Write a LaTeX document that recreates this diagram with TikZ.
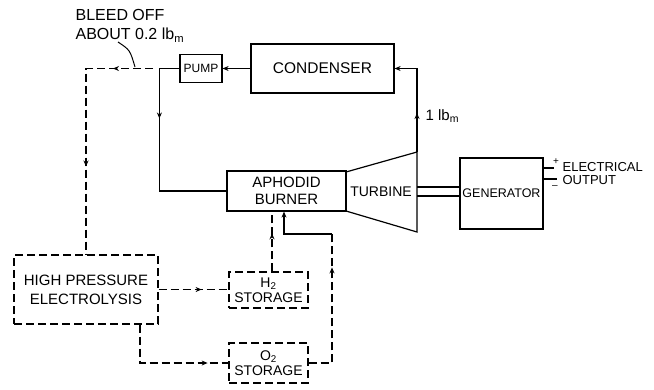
\documentclass[tikz,border=0pt]{standalone}
\usepackage{fontspec}
\setmainfont{Liberation Sans}
\usetikzlibrary{arrows.meta,decorations.markings}

\begin{document}
\begin{tikzpicture}[x=1pt, y=-1pt, >={Stealth[length=6pt,width=5pt]}, line width=1.2pt,
  block/.style={draw, inner sep=0pt, align=center, font=\fontsize{14}{16}\selectfont},
  dashblock/.style={block, dash pattern=on 8pt off 4pt},
  flow/.style={dash pattern=on 8pt off 4pt},
  midtip/.style={postaction={decorate, decoration={markings, mark=at position #1 with {\arrow{>}}}}},
  lbl/.style={inner sep=0pt, font=\fontsize{13}{15}\selectfont}]

\useasboundingbox (0,0) rectangle (654,389);

% main loop
\node[block, minimum width=42pt, minimum height=28pt, font=\fontsize{12}{14}\selectfont] (pump) at (201,68.5) {PUMP};
\node[block, minimum width=143pt, minimum height=49pt, font=\fontsize{15.5}{17}\selectfont] (cond) at (322.5,68.5) {CONDENSER};
\node[block, minimum width=119pt, minimum height=40pt, font=\fontsize{15}{17}\selectfont] (burner) at (286.5,191) {APHODID\\BURNER};
\coordinate (t1) at (346,172);
\coordinate (t2) at (417,152);
\coordinate (t3) at (417,232);
\coordinate (t4) at (346,211);
\draw (t1) -- (t2) -- (t3) -- (t4);
\node[lbl, font=\fontsize{14}{16}\selectfont] (turb) at (381,192) {TURBINE};
\node[block, minimum width=83pt, minimum height=71pt, font=\fontsize{12.5}{15}\selectfont] (gen) at (501.5,193.5) {GENERATOR};

% electrolysis side
\node[dashblock, minimum width=144pt, minimum height=69pt, font=\fontsize{15}{19}\selectfont] (hpe) at (86,289.5) {HIGH PRESSURE\\ELECTROLYSIS};
\node[dashblock, minimum width=79pt, minimum height=36pt, font=\fontsize{14}{15}\selectfont] (htwo) at (268.5,290) {H\textsubscript{2}\\STORAGE};
\node[dashblock, minimum width=79pt, minimum height=40pt, font=\fontsize{14}{15}\selectfont] (otwo) at (268.5,363) {O\textsubscript{2}\\STORAGE};

% labels
\node[lbl, anchor=north west, align=left, font=\fontsize{16}{19}\selectfont] (bleed) at (75,9) {BLEED OFF\\ABOUT 0.2 lb\textsubscript{m}};
\node[lbl, anchor=west, font=\fontsize{15}{17}\selectfont] (mass) at (425,116) {1 lb\textsubscript{m}};
\node[lbl, anchor=west] (elec) at (562,167) {ELECTRICAL};
\node[lbl, anchor=west] (outp) at (562,180) {OUTPUT};
\node[lbl, font=\fontsize{10}{10}\selectfont] (plus) at (556,162) {+};
\node[lbl, font=\fontsize{10}{10}\selectfont] (minus) at (555,187) {--};

% steam flow
\draw[->] (cond.west) -- (pump.east);
\draw[->, midtip=39pt] (t2) -- (t2 |- cond.east) -- (cond.east);
\draw[midtip=70pt] (pump.west) -- ++(-20pt,0) |- (burner.west);
\coordinate (bleedstart) at (153,68.5);
\draw[flow, midtip=40pt, midtip=165pt] (bleedstart) -| (hpe.north);
\draw[line width=1pt] (118,42) .. controls (130,50) .. (135,67);

% gas flow
\draw[flow, midtip=43pt] (hpe.east) -- (hpe.east -| htwo.west);
\draw[flow, midtip=106pt] ([xshift=54pt]hpe.south) |- (otwo.west);
\draw[flow, midtip=38pt] ([xshift=3.5pt]htwo.north) -- ([xshift=3.5pt]htwo.north |- burner.south);
\coordinate (bend) at (332,234);
\draw[flow, midtip=119pt] (otwo.east) -| (bend);
\draw[->] (bend) -| ([xshift=-2.5pt]burner.south);

% shaft and output
\draw ([yshift=6.5pt]gen.west -| t2) -- ([yshift=6.5pt]gen.west);
\draw ([yshift=-2.5pt]gen.west -| t2) -- ([yshift=-2.5pt]gen.west);
\draw ([yshift=25.5pt]gen.east) -- ++(10pt,0);
\draw ([yshift=14.5pt]gen.east) -- ++(13pt,0);

\end{tikzpicture}
\end{document}
